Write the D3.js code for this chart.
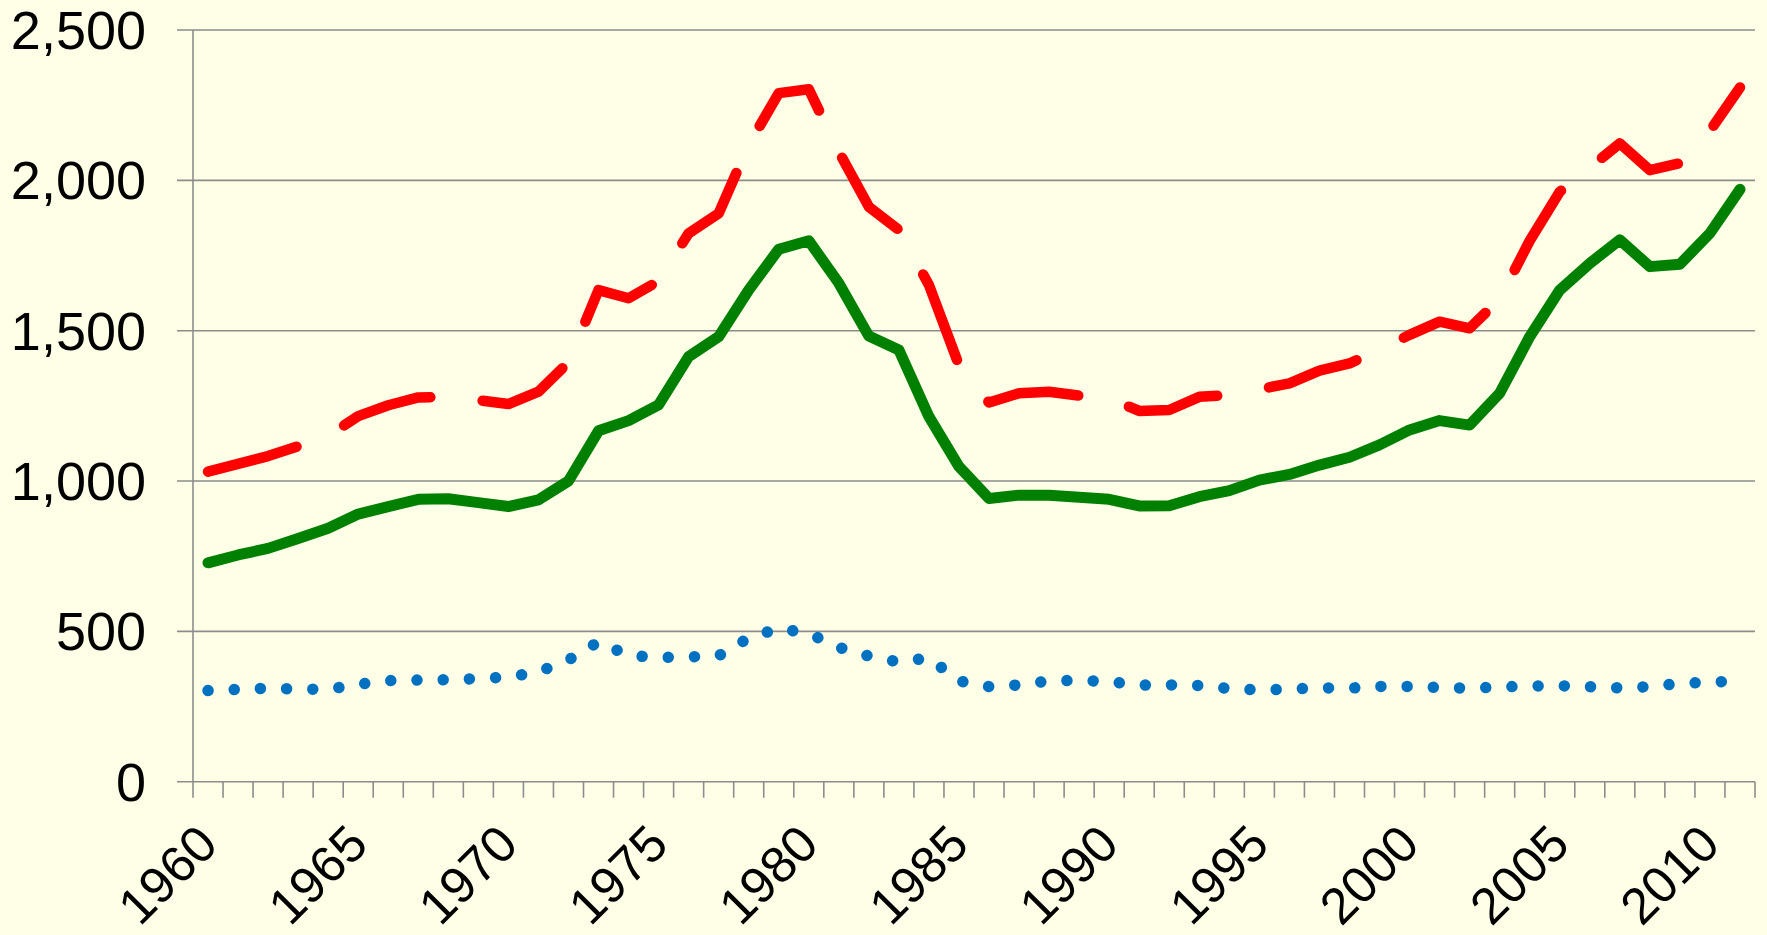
<!DOCTYPE html>
<html>
<head>
<meta charset="utf-8">
<script src="https://cdn.jsdelivr.net/npm/d3@7"></script>
<style>
  html, body { margin: 0; padding: 0; background: #FFFFE8; }
  svg { display: block; }
  text { font-family: "Liberation Sans", Arial, sans-serif; fill: #000; }
</style>
</head>
<body>
<svg id="chart" width="1767" height="935"></svg>
<script>
const years = [1960,1961,1962,1963,1964,1965,1966,1967,1968,1969,1970,1971,1972,1973,1974,1975,1976,1977,1978,1979,
  1980,1981,1982,1983,1984,1985,1986,1987,1988,1989,1990,1991,1992,1993,1994,1995,1996,1997,1998,1999,
  2000,2001,2002,2003,2004,2005,2006,2007,2008,2009,2010,2011];

const totalValues = [1031,1057,1083,1116,1150,1216,1252,1278,1280,1269,1256,1297,1395,1635,1608,1665,1824,1890,2118,2290,
  2303,2095,1912,1835,1652,1385,1261,1292,1297,1284,1275,1233,1236,1280,1286,1305,1325,1367,1391,1438,
  1486,1530,1508,1605,1799,1962,2042,2123,2034,2057,2165,2309];

const mainValues = [728,754,776,809,843,890,915,939,941,928,915,937,1000,1167,1201,1253,1414,1480,1635,1771,
  1799,1658,1482,1436,1214,1048,942,953,953,946,939,917,918,948,968,1003,1022,1053,1079,1120,
  1170,1201,1186,1292,1480,1635,1724,1802,1713,1721,1824,1970];

const smallValues = [303,307,311,308,307,324,336,338,339,343,348,365,405,465,420,413,415,419,478,510,
  493,447,418,398,412,335,316,322,335,337,333,321,322,320,310,305,308,312,311,317,
  317,313,311,315,318,319,316,312,316,327,331,335];

const yTicks = [0, 500, 1000, 1500, 2000, 2500];
const xLabelYears = [1960,1965,1970,1975,1980,1985,1990,1995,2000,2005,2010];

(function () {
const svg = d3.select("#chart");
const W = 1767, H = 935;
svg.append("rect").attr("width", W).attr("height", H).attr("fill", "#FFFFE8");

const pLeft = 193, pRight = 1755, pTop = 30, pBottom = 781.7;
const x = d3.scaleBand().domain(years).range([pLeft, pRight]).padding(0);
const y = d3.scaleLinear().domain([0, 2500]).range([pBottom, pTop]);
const cx = d => x(d) + x.bandwidth() / 2;
const gridColor = "#8c8c8c";

// gridlines + y ticks
svg.append("g").selectAll("line").data(yTicks).join("line")
  .attr("x1", pLeft - 16).attr("x2", pRight)
  .attr("y1", d => y(d)).attr("y2", d => y(d))
  .attr("stroke", gridColor).attr("stroke-width", 1.6);

// y axis line
svg.append("line").attr("x1", pLeft).attr("x2", pLeft).attr("y1", pTop).attr("y2", pBottom)
  .attr("stroke", gridColor).attr("stroke-width", 1.6);

// x ticks at category boundaries
const boundaries = years.map(d => x(d)).concat([pRight]);
svg.append("g").selectAll("line").data(boundaries).join("line")
  .attr("x1", d => d).attr("x2", d => d)
  .attr("y1", pBottom).attr("y2", pBottom + 16)
  .attr("stroke", gridColor).attr("stroke-width", 1.6);

// y labels
const fmt = d3.format(",");
svg.append("g").selectAll("text").data(yTicks).join("text")
  .attr("x", 146).attr("y", d => y(d) + 19)
  .attr("text-anchor", "end").attr("font-size", 54)
  .text(d => fmt(d));

// x labels rotated
svg.append("g").selectAll("text").data(xLabelYears).join("text")
  .attr("text-anchor", "end").attr("font-size", 51)
  .attr("transform", d => `translate(${cx(d) + 12},847) rotate(-45)`)
  .text(d => d);

// lines
const line = vals => d3.line().x((d, i) => cx(years[i])).y(d => y(d))(vals);

svg.append("path").attr("d", line(totalValues))
  .attr("fill", "none").attr("stroke", "#FF0000").attr("stroke-width", 10.5)
  .attr("stroke-linecap", "round").attr("stroke-linejoin", "round")
  .attr("stroke-dasharray", "92 52.5");

svg.append("path").attr("d", line(mainValues))
  .attr("fill", "none").attr("stroke", "#008000").attr("stroke-width", 11)
  .attr("stroke-linecap", "round").attr("stroke-linejoin", "round");

svg.append("path").attr("d", line(smallValues))
  .attr("fill", "none").attr("stroke", "#0070C0").attr("stroke-width", 11.5)
  .attr("stroke-linecap", "round").attr("stroke-linejoin", "round")
  .attr("stroke-dasharray", "0.01 26.2");
})();
</script>
</body>
</html>
